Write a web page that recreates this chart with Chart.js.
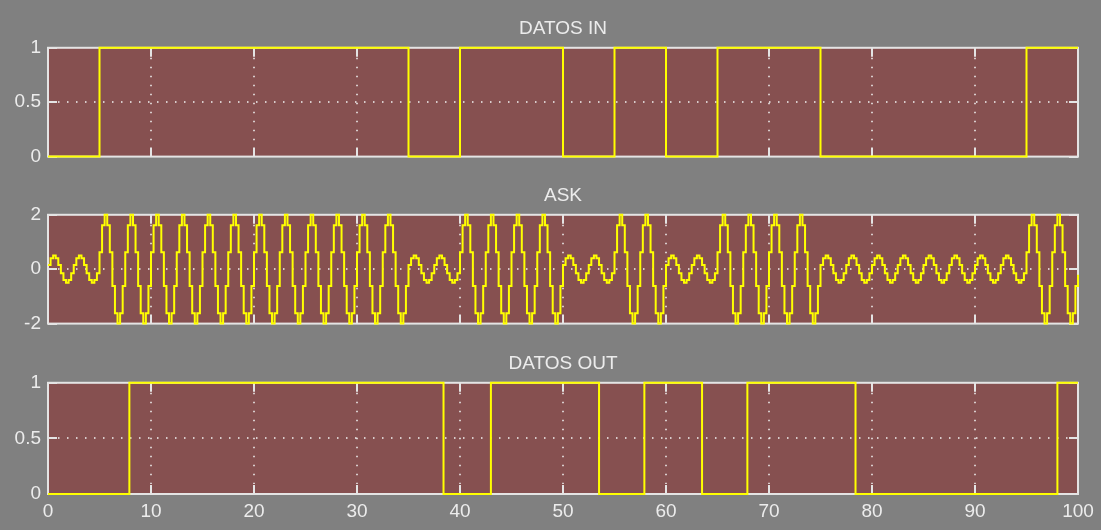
<!DOCTYPE html>
<html>
<head>
<meta charset="utf-8">
<title>DATOS IN / ASK / DATOS OUT</title>
<script src="https://cdn.jsdelivr.net/npm/chart.js@4.4.1/dist/chart.umd.min.js"></script>
<style>
  html, body { margin: 0; padding: 0; background: #808080; }
  #wrap { position: relative; width: 1101px; height: 530px; background: #808080; overflow: hidden; }
  canvas { position: absolute; left: 0; }
</style>
</head>
<body>
<div id="wrap">
  <canvas id="datosIn" width="1101" height="175" style="top:0px"></canvas>
  <canvas id="ask" width="1101" height="175" style="top:167px"></canvas>
  <canvas id="datosOut" width="1101" height="195" style="top:335px"></canvas>
</div>
<script>
// --- data ---
const bitWidth = 5
const bitsIn = [0, 1, 1, 1, 1, 1, 1, 0, 1, 1, 0, 1, 0, 1, 1, 0, 0, 0, 0, 1]

// ASK signal, one sample every 0.25 (held until the next one)
const askStep = 0.25
const askValues = [
  0.15, 0.4, 0.5, 0.4, 0.15, -0.15, -0.4, -0.5, -0.4, -0.15, 0.15, 0.4, 0.5, 0.4, 0.15, -0.15, -0.4, -0.5, -0.4, -0.15,           // 0-5
  0.62, 1.62, 2, 1.62, 0.62, -0.62, -1.62, -2, -1.62, -0.62, 0.62, 1.62, 2, 1.62, 0.62, -0.62, -1.62, -2, -1.62, -0.62,           // 5-10
  0.62, 1.62, 2, 1.62, 0.62, -0.62, -1.62, -2, -1.62, -0.62, 0.62, 1.62, 2, 1.62, 0.62, -0.62, -1.62, -2, -1.62, -0.62,           // 10-15
  0.62, 1.62, 2, 1.62, 0.62, -0.62, -1.62, -2, -1.62, -0.62, 0.62, 1.62, 2, 1.62, 0.62, -0.62, -1.62, -2, -1.62, -0.62,           // 15-20
  0.62, 1.62, 2, 1.62, 0.62, -0.62, -1.62, -2, -1.62, -0.62, 0.62, 1.62, 2, 1.62, 0.62, -0.62, -1.62, -2, -1.62, -0.62,           // 20-25
  0.62, 1.62, 2, 1.62, 0.62, -0.62, -1.62, -2, -1.62, -0.62, 0.62, 1.62, 2, 1.62, 0.62, -0.62, -1.62, -2, -1.62, -0.62,           // 25-30
  0.62, 1.62, 2, 1.62, 0.62, -0.62, -1.62, -2, -1.62, -0.62, 0.62, 1.62, 2, 1.62, 0.62, -0.62, -1.62, -2, -1.62, -0.62,           // 30-35
  0.15, 0.4, 0.5, 0.4, 0.15, -0.15, -0.4, -0.5, -0.4, -0.15, 0.15, 0.4, 0.5, 0.4, 0.15, -0.15, -0.4, -0.5, -0.4, -0.15,           // 35-40
  0.62, 1.62, 2, 1.62, 0.62, -0.62, -1.62, -2, -1.62, -0.62, 0.62, 1.62, 2, 1.62, 0.62, -0.62, -1.62, -2, -1.62, -0.62,           // 40-45
  0.62, 1.62, 2, 1.62, 0.62, -0.62, -1.62, -2, -1.62, -0.62, 0.62, 1.62, 2, 1.62, 0.62, -0.62, -1.62, -2, -1.62, -0.62,           // 45-50
  0.15, 0.4, 0.5, 0.4, 0.15, -0.15, -0.4, -0.5, -0.4, -0.15, 0.15, 0.4, 0.5, 0.4, 0.15, -0.15, -0.4, -0.5, -0.4, -0.15,           // 50-55
  0.62, 1.62, 2, 1.62, 0.62, -0.62, -1.62, -2, -1.62, -0.62, 0.62, 1.62, 2, 1.62, 0.62, -0.62, -1.62, -2, -1.62, -0.62,           // 55-60
  0.15, 0.4, 0.5, 0.4, 0.15, -0.15, -0.4, -0.5, -0.4, -0.15, 0.15, 0.4, 0.5, 0.4, 0.15, -0.15, -0.4, -0.5, -0.4, -0.15,           // 60-65
  0.62, 1.62, 2, 1.62, 0.62, -0.62, -1.62, -2, -1.62, -0.62, 0.62, 1.62, 2, 1.62, 0.62, -0.62, -1.62, -2, -1.62, -0.62,           // 65-70
  0.62, 1.62, 2, 1.62, 0.62, -0.62, -1.62, -2, -1.62, -0.62, 0.62, 1.62, 2, 1.62, 0.62, -0.62, -1.62, -2, -1.62, -0.62,           // 70-75
  0.15, 0.4, 0.5, 0.4, 0.15, -0.15, -0.4, -0.5, -0.4, -0.15, 0.15, 0.4, 0.5, 0.4, 0.15, -0.15, -0.4, -0.5, -0.4, -0.15,           // 75-80
  0.15, 0.4, 0.5, 0.4, 0.15, -0.15, -0.4, -0.5, -0.4, -0.15, 0.15, 0.4, 0.5, 0.4, 0.15, -0.15, -0.4, -0.5, -0.4, -0.15,           // 80-85
  0.15, 0.4, 0.5, 0.4, 0.15, -0.15, -0.4, -0.5, -0.4, -0.15, 0.15, 0.4, 0.5, 0.4, 0.15, -0.15, -0.4, -0.5, -0.4, -0.15,           // 85-90
  0.15, 0.4, 0.5, 0.4, 0.15, -0.15, -0.4, -0.5, -0.4, -0.15, 0.15, 0.4, 0.5, 0.4, 0.15, -0.15, -0.4, -0.5, -0.4, -0.15,           // 90-95
  0.62, 1.62, 2, 1.62, 0.62, -0.62, -1.62, -2, -1.62, -0.62, 0.62, 1.62, 2, 1.62, 0.62, -0.62, -1.62, -2, -1.62, -0.62,           // 95-100
  -0.2
]

// demodulated output: level changes at these times
const outEdges = [0, 7.9, 38.4, 43, 53.5, 57.9, 63.5, 67.9, 78.4, 98, 100]
const outLevels = [0, 1, 0, 1, 0, 1, 0, 1, 0, 1, 1]

const titles = ['DATOS IN', 'ASK', 'DATOS OUT']

// --- look ---
const plotColor = '#865050'
const lineColor = '#ffff00'
const boxColor = '#e4e4e4'
const textColor = '#ececec'
const font = { family: "'Liberation Sans', Arial, sans-serif", size: 19, weight: 'normal' }

const inPoints = bitsIn.map((b, i) => ({ x: i * bitWidth, y: b }))
inPoints.push({ x: bitsIn.length * bitWidth, y: bitsIn[bitsIn.length - 1] })
const askPoints = askValues.map((v, i) => ({ x: i * askStep, y: v }))
const outPoints = outEdges.map((t, i) => ({ x: t, y: outLevels[i] }))

// matlab-like axes: filled box, dotted grid, ticks pointing inwards
const axesBox = {
  id: 'axesBox',
  beforeDatasetsDraw(chart) {
    const { ctx, chartArea: a, scales: { x, y } } = chart
    const seg = (x1, y1, x2, y2) => { ctx.beginPath(); ctx.moveTo(x1, y1); ctx.lineTo(x2, y2); ctx.stroke() }
    ctx.save()
    ctx.fillStyle = plotColor
    ctx.fillRect(a.left, a.top, a.width, a.height)

    ctx.strokeStyle = '#f4f4f4'
    ctx.lineWidth = 1.5
    ctx.setLineDash([1.5, 7.5])
    x.ticks.forEach(t => {
      if (t.value > x.min && t.value < x.max) {
        const px = Math.round(x.getPixelForValue(t.value))
        seg(px, a.top + 10, px, a.bottom - 10)
      }
    })
    y.ticks.forEach(t => {
      if (t.value > y.min && t.value < y.max) {
        const py = Math.round(y.getPixelForValue(t.value))
        seg(a.left + 10, py, a.right - 10, py)
      }
    })
    ctx.setLineDash([])

    ctx.strokeStyle = boxColor
    ctx.lineWidth = 2
    ctx.strokeRect(a.left, a.top, a.width, a.height)
    const tl = 9
    x.ticks.forEach(t => {
      const px = Math.round(x.getPixelForValue(t.value))
      seg(px, a.top, px, a.top + tl)
      seg(px, a.bottom, px, a.bottom - tl)
    })
    y.ticks.forEach(t => {
      const py = Math.round(y.getPixelForValue(t.value))
      seg(a.left, py, a.left + tl, py)
      seg(a.right, py, a.right - tl, py)
    })
    ctx.restore()
  }
}

const makeChart = (id, title, points, yMin, yMax, yStep, showX) => {
  return new Chart(document.getElementById(id), {
    type: 'line',
    data: {
      datasets: [{
        data: points,
        borderColor: lineColor,
        borderWidth: 2,
        stepped: true,
        pointRadius: 0,
        fill: false,
        clip: false
      }]
    },
    options: {
      responsive: false,
      animation: false,
      events: [],
      layout: { padding: { top: 0, right: 23, bottom: showX ? 0 : 16, left: 0 } },
      plugins: {
        legend: { display: false },
        tooltip: { enabled: false },
        title: {
          display: true,
          fullSize: false,
          text: title,
          color: textColor,
          font: font,
          padding: { top: 17, bottom: 8 }
        }
      },
      scales: {
        x: {
          type: 'linear',
          min: 0,
          max: 100,
          grid: { display: false, drawTicks: false },
          border: { display: false },
          ticks: { display: showX, stepSize: 10, color: textColor, font: font, padding: 6, maxRotation: 0, autoSkip: false },
          afterFit: s => { s.height = showX ? 36 : 0 }
        },
        y: {
          min: yMin,
          max: yMax,
          grid: { display: false, drawTicks: false },
          border: { display: false },
          ticks: { stepSize: yStep, color: textColor, font: font, padding: 7, callback: v => String(v) },
          afterFit: s => { s.width = 48 }
        }
      }
    },
    plugins: [axesBox]
  })
}

makeChart('datosIn', titles[0], inPoints, 0, 1, 0.5, false)
makeChart('ask', titles[1], askPoints, -2, 2, 2, false)
makeChart('datosOut', titles[2], outPoints, 0, 1, 0.5, true)
</script>
</body>
</html>
